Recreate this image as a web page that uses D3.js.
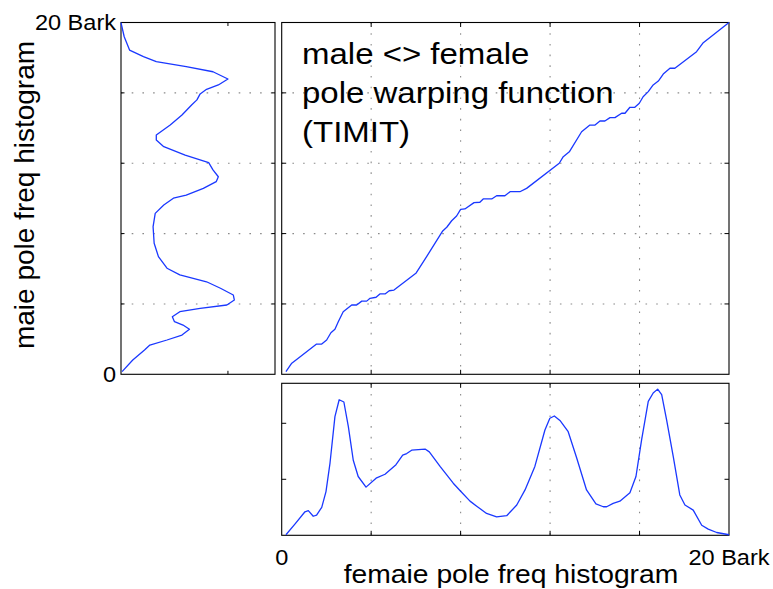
<!DOCTYPE html>
<html>
<head>
<meta charset="utf-8">
<script src="https://cdn.jsdelivr.net/npm/d3@7"></script>
<style>
html,body{margin:0;padding:0;background:#fff;}
svg{display:block;}
text{font-family:"Liberation Sans",Arial,Helvetica,sans-serif;fill:#000;}
</style>
</head>
<body>
<svg id="chart" width="773" height="589"></svg>
<script>
// ---------------- data ----------------
const barkTicks = [0, 4, 8, 12, 16, 20];
const barkTickLabels = ["0", "", "", "", "", "20 Bark"];
const titleLines = ["male <> female", "pole warping function", "(TIMIT)"];
const xLabel = "femaie pole freq histogram";
const yLabel = "maie pole freq histogram";

// warping function: female bark (x) -> male bark (y)
const warpFemale = [0.19,0.45,0.74,1.56,1.79,2.01,2.20,2.38,2.53,2.75,3.13,3.35,3.58,3.80,3.95,4.22,4.39,4.62,4.81,5.02,6.00,6.48,7.20,7.38,7.60,7.82,8.00,8.19,8.60,8.86,9.01,9.39,9.61,9.98,10.21,10.65,10.95,12.41,12.59,12.86,13.41,13.78,14.01,14.23,14.45,14.68,14.90,15.20,15.35,15.57,15.79,15.99,16.16,16.39,16.61,16.84,17.06,17.36,17.58,18.55,18.85,20.0];
const warpMale   = [0.15,0.63,0.91,1.72,1.72,1.95,2.36,2.56,2.99,3.56,3.94,3.94,4.16,4.16,4.32,4.38,4.57,4.57,4.75,4.79,5.74,6.69,8.15,8.36,8.73,9.00,9.38,9.40,9.76,9.78,9.97,9.97,10.15,10.15,10.38,10.38,10.57,12.00,12.37,12.65,13.79,14.17,14.17,14.40,14.40,14.59,14.59,14.84,14.84,15.18,15.18,15.41,15.78,16.07,16.45,16.67,17.07,17.40,17.40,18.34,18.85,20.0];

// female pole frequency histogram (bottom panel)
const femaleBark = [0.19,0.59,1.04,1.19,1.41,1.56,1.79,1.98,2.16,2.38,2.57,2.78,2.98,3.20,3.42,3.77,4.22,4.62,5.11,5.41,5.59,5.81,6.41,6.60,7.08,7.67,7.97,8.42,8.72,9.16,9.61,10.06,10.51,10.88,11.32,11.77,11.99,12.19,12.44,12.81,13.19,13.63,14.05,14.38,14.53,14.82,15.12,15.57,15.84,16.09,16.39,16.61,16.81,16.99,17.21,17.51,17.80,18.03,18.40,18.78,19.07,19.45,20.0];
const femaleHist = [0.01,0.20,0.42,0.44,0.34,0.36,0.50,0.78,1.29,2.12,2.42,2.38,1.94,1.34,1.05,0.86,1.02,1.09,1.26,1.43,1.46,1.52,1.54,1.49,1.23,0.93,0.80,0.61,0.52,0.39,0.33,0.35,0.54,0.81,1.23,1.88,2.09,2.13,2.05,1.85,1.38,0.81,0.56,0.51,0.51,0.57,0.61,0.76,1.05,1.70,2.39,2.54,2.61,2.51,2.06,1.40,0.72,0.54,0.45,0.18,0.11,0.05,0.01];
const femaleHistTicks = [1, 2];
const femaleHistMax = 2.714;

// male pole frequency histogram (left panel)
const maleBark = [19.99,19.19,18.43,18.06,17.77,17.49,17.20,16.79,16.45,16.20,15.94,15.60,15.31,14.74,14.17,13.60,13.32,12.94,12.46,12.03,11.62,11.23,10.95,10.57,10.19,10.01,9.62,9.15,8.39,7.45,6.69,6.03,5.65,5.26,4.89,4.51,4.22,3.94,3.75,3.56,3.27,2.99,2.80,2.56,2.23,1.95,1.66,1.38,0.81,0.15];
const maleHist = [0.00,0.03,0.08,0.21,0.33,0.61,0.86,1.00,0.91,0.80,0.74,0.71,0.66,0.57,0.46,0.33,0.33,0.40,0.60,0.82,0.86,0.91,0.89,0.77,0.61,0.49,0.40,0.32,0.30,0.31,0.35,0.43,0.55,0.80,0.93,1.05,1.06,0.99,0.74,0.55,0.48,0.50,0.58,0.64,0.57,0.43,0.27,0.22,0.11,0.01];
const maleHistTicks = [1];
const maleHistMax = 1.44;

// ---------------- layout ----------------
const svg = d3.select("#chart");
const M = {x0: 281.7, x1: 729, y0: 22.5, y1: 374.3};   // main panel
const L = {x0: 121, x1: 275, y0: 22.5, y1: 374.3};     // left panel
const B = {x0: 281.7, x1: 729, y0: 383.3, y1: 535.3};  // bottom panel
const lineColor = "#1a38ff";
const gridColor = "#8a8a8a";
const gridDash = "1.6 9.1";

const barkX = d3.scaleLinear().domain([0, 20]).range([M.x0, M.x1]);
const barkY = d3.scaleLinear().domain([0, 20]).range([M.y1, M.y0]);
const histY = d3.scaleLinear().domain([0, femaleHistMax]).range([B.y1, B.y0]);
const histX = d3.scaleLinear().domain([0, maleHistMax]).range([L.x0, L.x1]);

const inner = barkTicks.slice(1, -1);

function hGrid(g, scale, vals, x0, x1) {
  g.selectAll(null).data(vals).enter().append("line")
    .attr("x1", x0).attr("x2", x1)
    .attr("y1", d => scale(d)).attr("y2", d => scale(d))
    .attr("stroke", gridColor).attr("stroke-width", 1.1).attr("stroke-dasharray", gridDash);
}
function vGrid(g, scale, vals, y0, y1) {
  g.selectAll(null).data(vals).enter().append("line")
    .attr("y1", y0).attr("y2", y1)
    .attr("x1", d => scale(d)).attr("x2", d => scale(d))
    .attr("stroke", gridColor).attr("stroke-width", 1.1).attr("stroke-dasharray", gridDash);
}
function frame(g, P, xScale, xVals, yScale, yVals, tl) {
  const tk = g.append("g").attr("stroke", "#000").attr("stroke-width", 1);
  xVals.forEach(v => {
    const x = xScale(v);
    tk.append("line").attr("x1", x).attr("x2", x).attr("y1", P.y1).attr("y2", P.y1 - tl);
    tk.append("line").attr("x1", x).attr("x2", x).attr("y1", P.y0).attr("y2", P.y0 + tl);
  });
  yVals.forEach(v => {
    const y = yScale(v);
    tk.append("line").attr("y1", y).attr("y2", y).attr("x1", P.x0).attr("x2", P.x0 + tl);
    tk.append("line").attr("y1", y).attr("y2", y).attr("x1", P.x1).attr("x2", P.x1 - tl);
  });
  g.append("rect").attr("x", P.x0).attr("y", P.y0)
    .attr("width", P.x1 - P.x0).attr("height", P.y1 - P.y0)
    .attr("fill", "none").attr("stroke", "#000").attr("stroke-width", 1.1);
}

// ---------- main panel ----------
const gm = svg.append("g");
hGrid(gm, barkY, inner, M.x0, M.x1);
vGrid(gm, barkX, inner, M.y0, M.y1);
frame(gm, M, barkX, inner, barkY, inner, 4.5);

const warpData = warpFemale.map((f, i) => [f, warpMale[i]]);
gm.append("path").datum(warpData)
  .attr("d", d3.line().x(d => barkX(d[0])).y(d => barkY(d[1])))
  .attr("fill", "none").attr("stroke", lineColor).attr("stroke-width", 1.3)
  .attr("stroke-linejoin", "round");

const tg = gm.append("g");
titleLines.forEach((t, i) => {
  tg.append("text")
    .attr("transform", `translate(302,${63.5 + i * 39}) scale(1.1,1)`)
    .attr("font-size", 30).text(t);
});

// ---------- left panel ----------
const gl = svg.append("g");
hGrid(gl, barkY, inner, L.x0, L.x1);
frame(gl, L, histX, maleHistTicks, barkY, inner, 3.5);
const maleData = maleBark.map((b, i) => [maleHist[i], b]);
gl.append("path").datum(maleData)
  .attr("d", d3.line().x(d => histX(d[0])).y(d => barkY(d[1])))
  .attr("fill", "none").attr("stroke", lineColor).attr("stroke-width", 1.3)
  .attr("stroke-linejoin", "round");

barkTicks.forEach((v, i) => {
  if (!barkTickLabels[i]) return;
  gl.append("text")
    .attr("transform", `translate(116,${barkY(v) + 7.8}) scale(1.07,1)`)
    .attr("text-anchor", "end").attr("font-size", 22)
    .text(barkTickLabels[i]);
});

// ---------- bottom panel ----------
const gb = svg.append("g");
vGrid(gb, barkX, inner, B.y0, B.y1);
frame(gb, B, barkX, inner, histY, femaleHistTicks, 4.5);
const femData = femaleBark.map((b, i) => [b, femaleHist[i]]);
gb.append("path").datum(femData)
  .attr("d", d3.line().x(d => barkX(d[0])).y(d => histY(d[1])))
  .attr("fill", "none").attr("stroke", lineColor).attr("stroke-width", 1.3)
  .attr("stroke-linejoin", "round");

barkTicks.forEach((v, i) => {
  if (!barkTickLabels[i]) return;
  gb.append("text")
    .attr("transform", `translate(${barkX(v)},564.5) scale(1.07,1)`)
    .attr("text-anchor", "middle").attr("font-size", 22)
    .text(barkTickLabels[i]);
});

// ---------- axis labels ----------
svg.append("text")
  .attr("transform", "translate(511,583) scale(1.1,1)")
  .attr("text-anchor", "middle").attr("font-size", 25.7)
  .text(xLabel);

svg.append("text")
  .attr("transform", "translate(33.5,195) rotate(-90)")
  .attr("text-anchor", "middle").attr("font-size", 28)
  .text(yLabel);
</script>
</body>
</html>
